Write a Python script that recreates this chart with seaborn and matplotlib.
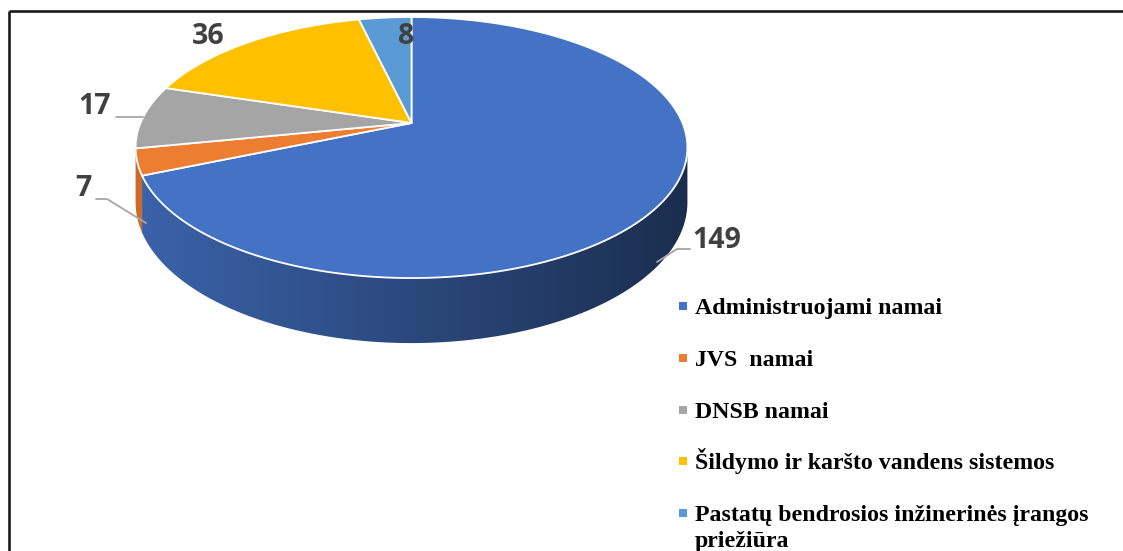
import numpy as np
import matplotlib
matplotlib.use("Agg")
import matplotlib.pyplot as plt
from matplotlib.patches import Polygon
import seaborn as sns

# ---- data -------------------------------------------------------------
categories = [
    "Administruojami namai",
    "JVS  namai",
    "DNSB namai",
    "Šildymo ir karšto vandens sistemos",
    "Pastatų bendrosios inžinerinės įrangos\npriežiūra",
]
values = [149, 7, 17, 36, 8]
palette = ["#4472C4", "#ED7D31", "#A5A5A5", "#FFC000", "#5B9BD5"]

# ---- styling ----------------------------------------------------------
sns.set_theme(style="white")
colors = sns.color_palette(palette)

W, H = 1123, 551
fig = plt.figure(figsize=(W / 100, H / 100), dpi=100)
ax = fig.add_axes([0, 0, 1, 1])
ax.set_xlim(0, W)
ax.set_ylim(H, 0)
ax.axis("off")

# frame (top and left edges)
ax.plot([9, W], [11, 11], color="#1a1a1a", lw=1.9, solid_capstyle="butt")
ax.plot([9, 9], [11, H], color="#1a1a1a", lw=1.9, solid_capstyle="butt")

# ---- 3D pie geometry (perspective view of a tilted disc) ---------------
cx, cy = 411.5, 123.0      # centre of the top face
A, B = 271.0, 125.9        # radii of the projected disc
K = 0.188                  # perspective strength
DEPTH = 52.8               # thickness of the disc


def proj(theta, z=0.0):
    """theta in degrees, clockwise from 12 o'clock; z=0 top face, z=1 bottom."""
    t = np.radians(theta)
    u, v = np.sin(t), -np.cos(t)
    d = 1.0 - K * v
    return cx + A * u / d, cy + (B * v + DEPTH * z) / d


total = float(sum(values))
bounds = np.concatenate([[0.0], np.cumsum(values) / total * 360.0])

# visible part of the side wall lies between the two silhouette angles
sil = np.degrees(np.arccos(-K))
wall_lo, wall_hi = sil, 360.0 - sil

# side wall: one polygon per slice, filled with a horizontal shading
# gradient clipped to the polygon
xl, xr = cx - A * 1.02, cx + A * 1.02
xs = np.linspace(xl - 5, xr + 5, 600)
shade = 0.87 - 0.47 * np.clip((xs - xl) / (xr - xl), 0, 1)
for i, col in enumerate(colors):
    a0, a1 = bounds[i], bounds[i + 1]
    lo, hi = max(a0, wall_lo), min(a1, wall_hi)
    if hi <= lo:
        continue
    angs = np.linspace(lo, hi, 300)
    top = [proj(a) for a in angs]
    bot = [proj(a, 1) for a in angs[::-1]]
    poly = Polygon(top + bot, closed=True, facecolor="none", edgecolor="none",
                   zorder=2)
    ax.add_patch(poly)
    grad = np.clip(np.outer(shade, np.array(col)), 0, 1)[None, :, :]
    im = ax.imshow(grad, extent=(xs[0], xs[-1], 400, 0), aspect="auto",
                   interpolation="bilinear", zorder=2)
    im.set_clip_path(poly)
ax.set_xlim(0, W)
ax.set_ylim(H, 0)

# top face slices
for i, col in enumerate(colors):
    angs = np.linspace(bounds[i], bounds[i + 1], 200)
    pts = [(cx, cy)] + [proj(a) for a in angs]
    ax.add_patch(Polygon(pts, closed=True, facecolor=col, edgecolor="white",
                         lw=1.3, joinstyle="round", zorder=3))

# ---- value labels -----------------------------------------------------
label_pos = [(717, 240), (83, 189), (95, 107), (208, 36), (406, 36)]
for val, (lx, ly) in zip(values, label_pos):
    ax.text(lx, ly, str(val), ha="center", va="center", fontsize=20.5,
            fontweight="bold", family="Open Sans", color="#404040", zorder=5)

# leader lines
leader_col = "#A6A6A6"
ax.plot([657, 677, 690], [262, 249, 249], color=leader_col, lw=1.3, zorder=4)
ax.plot([96, 107, 146], [199, 199, 223], color=leader_col, lw=1.3, zorder=4)
ax.plot([116, 143], [117, 117], color=leader_col, lw=1.3, zorder=4)

# ---- legend -----------------------------------------------------------
leg_y = [314, 366, 418, 469, 521]
line_gap = 26
for cat, col, by in zip(categories, colors, leg_y):
    ax.scatter([683], [by - 8], marker="s", s=26, color=col, linewidths=0,
               zorder=5)
    for j, line in enumerate(cat.split("\n")):
        ax.text(695, by + j * line_gap, line, ha="left", va="baseline",
                fontsize=17.2, fontweight="bold", family="Liberation Serif",
                color="black", zorder=5)

fig.savefig("out.png", dpi=100)
